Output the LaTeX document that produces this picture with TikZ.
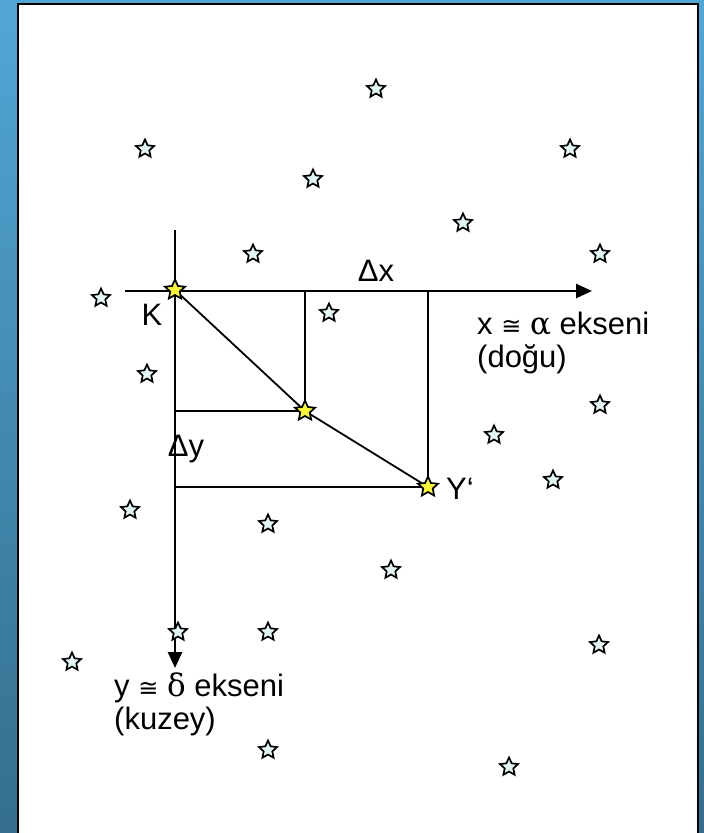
\documentclass[tikz,border=0pt]{standalone}
\usepackage{fontspec}
\setmainfont{Liberation Sans}
\newfontfamily\greekfont{DejaVu Serif}
\newfontfamily\mathsymfont{DejaVu Sans}
\usetikzlibrary{arrows.meta, shapes.geometric}
\definecolor{bgtop}{RGB}{82,166,214}
\definecolor{bgbottom}{RGB}{52,110,140}
\definecolor{starpale}{RGB}{226,246,246}
\definecolor{staryellow}{RGB}{250,245,50}

\begin{document}
\begin{tikzpicture}[
  x=1pt, y=-1pt,
  bgstar/.style={star, star points=5, star point ratio=2.1, minimum size=19pt, inner sep=0pt, draw=black, line width=1.7pt, fill=starpale},
  ystar/.style={bgstar, minimum size=21pt, fill=staryellow},
  axis/.style={-{Triangle[length=16pt, width=14pt]}, line width=2.6pt},
  proj/.style={line width=1.8pt},
  axislabel/.style={font=\fontsize{31}{33}\selectfont, inner sep=0pt, align=left}
]
  \useasboundingbox (0,0) rectangle (704,833);
  % background and panel
  \shade[top color=bgtop, bottom color=bgbottom] (0,0) rectangle (704,833);
  \fill[white] (18,4) rectangle (698,833);
  \draw[line width=2pt] (18,833) -- (18,4) -- (698,4) -- (698,833);

  % points
  \coordinate (k) at (175,290);
  \coordinate (m) at (305,411);
  \coordinate (yp) at (428,487);
  \coordinate (xstart) at (125,291);
  \coordinate (xend) at (592,291);
  \coordinate (ystart) at (175,230);
  \coordinate (yend) at (175,668);

  % axes
  \draw[axis] (xstart) -- (xend);
  \draw[axis] (ystart) -- (yend);

  % projections
  \draw[proj] (m |- xstart) -- (m) -- (k |- m);
  \draw[proj] (yp |- xstart) -- (yp) -- (k |- yp);
  \draw[proj] (k) -- (m) -- (yp);

  % background stars
  \foreach \x/\y [count=\i] in {376/89, 145/149, 570/149, 313/179, 463/223, 253/254, 600/254,
      101/298, 329/313, 147/374, 600/405, 494/435, 553/480, 130/510, 268/524, 391/570,
      178/632, 268/632, 599/645, 72/662, 268/750, 509/767}
    \node[bgstar] (s\i) at (\x,\y) {};

  % marked stars
  \node[ystar] (kstar) at (k) {};
  \node[ystar] (mstar) at (m) {};
  \node[ystar] (ystar) at (yp) {};

  % labels
  \node[axislabel, anchor=base] (klabel) at (152,325) {K};
  \node[axislabel, anchor=base] (dx) at (376,281) {Δx};
  \node[axislabel, anchor=base] (dy) at (186,456) {Δy};
  \node[axislabel, anchor=base west] (ylabel) at (446,499) {Y{\char"60}};
  \node[axislabel, anchor=north west] (xaxis) at (477,312) {x {\mathsymfont\fontsize{24}{33}\selectfont ≅} {\greekfont α} ekseni\\(doğu)};
  \node[axislabel, anchor=north west] (yaxis) at (114,673) {y {\mathsymfont\fontsize{24}{33}\selectfont ≅} {\greekfont δ} ekseni\\(kuzey)};
\end{tikzpicture}
\end{document}
